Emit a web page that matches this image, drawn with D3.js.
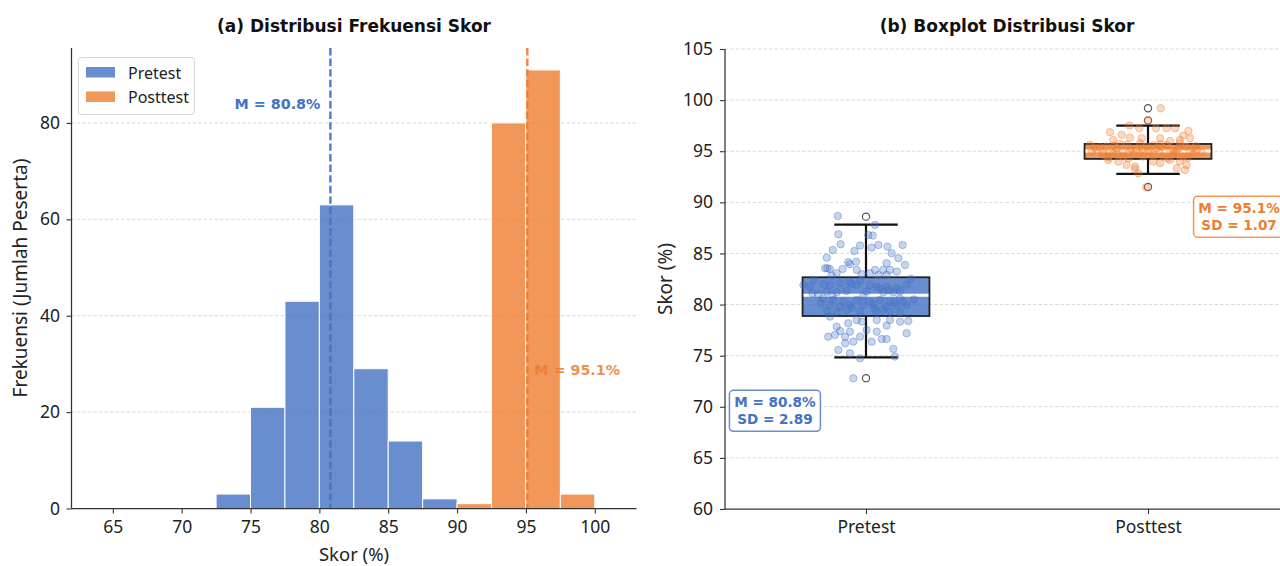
<!DOCTYPE html>
<html><head><meta charset="utf-8">
<script src="https://cdn.jsdelivr.net/npm/d3@7"></script>
<style>body{margin:0;background:#fff;} svg{display:block;}</style>
</head><body>
<svg id="c" width="1280" height="566"></svg>
<script>
// ---------- DATA ----------
const groups = ["Pretest", "Posttest"];
const groupColors = ["#4472C4", "#ED7D31"];
const pretestBinEdges = [72.5, 75, 77.5, 80, 82.5, 85, 87.5, 90];
const pretestCounts = [3, 21, 43, 63, 29, 14, 2];
const posttestBinEdges = [90, 92.5, 95, 97.5, 100];
const posttestCounts = [1, 80, 91, 3];
const means = [80.8, 95.1];
const sds = [2.89, 1.07];
const histXTicks = [65, 70, 75, 80, 85, 90, 95, 100];
const histYTicks = [0, 20, 40, 60, 80];
const boxYTicks = [60, 65, 70, 75, 80, 85, 90, 95, 100, 105];
const boxQ1 = [78.88, 94.25];
const boxMedian = [80.91, 95.03];
const boxQ3 = [82.67, 95.71];
const whiskerLow = [74.84, 92.78];
const whiskerHigh = [87.82, 97.50];
const pretestOutliers = [72.8, 88.6];
const posttestOutliers = [91.5, 98.0, 99.2];
const annotX = [0.677, 2.323];
const annotY = [69.6, 88.6];

const pretestScores = [88.67,87.79,86.88,86.81,86.75,85.90,85.77,85.57,85.83,85.67,85.83,85.34,85.24,85.02,84.59,84.53,84.14,84.20,84.04,83.87,83.55,83.55,83.48,83.48,83.94,83.39,83.39,83.39,83.39,83.07,82.96,83.07,82.90,83.23,82.83,82.90,
81.92,81.75,81.98,81.92,82.08,82.02,81.92,81.92,81.75,81.75,81.59,81.92,81.27,81.20,81.33,81.27,81.20,81.20,81.33,80.61,80.45,80.29,80.45,80.29,80.45,80.29,80.29,79.96,79.80,79.96,79.96,80.03,79.80,79.90,79.96,79.37,79.31,79.47,79.31,79.37,79.31,79.24,
82.4,82.2,81.6,81.0,80.8,80.6,80.1,79.6,82.5,81.4,80.9,80.2,79.7,82.3,81.1,80.5,79.5,
78.82,78.49,78.49,78.49,78.33,78.40,78.17,78.33,77.84,77.42,77.35,77.51,77.35,77.94,76.86,77.03,76.86,76.86,76.63,76.63,77.19,76.37,76.21,76.37,75.56,75.23,74.74,75.66,74.91,72.79];
const pretestJitter = [-0.100,0.032,-0.098,0.008,0.024,-0.090,-0.021,0.020,0.044,0.076,0.130,-0.118,-0.041,0.091,-0.139,0.115,-0.063,-0.035,0.073,0.138,-0.145,-0.137,-0.128,-0.083,-0.057,-0.033,0.032,0.061,0.085,-0.104,-0.015,0.014,0.044,0.109,-0.122,0.073,
-0.222,-0.199,-0.151,-0.128,-0.092,-0.051,-0.033,0.014,0.038,0.073,0.109,0.144,-0.139,-0.104,-0.069,0.002,0.061,0.097,0.121,-0.151,-0.116,-0.080,-0.033,0.014,0.050,0.085,0.132,-0.128,-0.092,-0.057,-0.009,0.026,0.073,0.109,0.144,-0.139,-0.104,-0.069,-0.021,0.038,0.085,0.121,
-0.185,-0.06,0.05,-0.17,-0.01,0.12,-0.16,0.03,0.16,0.08,-0.12,0.10,-0.05,-0.02,-0.19,0.17,0.06,
-0.128,-0.033,0.038,0.085,0.121,0.150,-0.063,-0.015,-0.104,-0.092,-0.057,0.002,0.038,0.073,-0.134,-0.110,-0.074,-0.021,0.056,0.073,0.144,-0.045,-0.074,0.020,-0.098,-0.057,-0.021,0.097,0.103,-0.045];

const posttestScores = [99.20,98.0,91.47,96.86,97.51,97.25,97.25,97.25,97.25,96.60,96.33,96.27,96.53,96.99,96.27,96.27,96.11,96.11,96.01,
95.62,95.13,95.45,95.29,95.62,95.13,95.45,95.29,95.62,95.13,95.45,95.13,94.64,94.80,94.48,94.70,94.48,94.70,94.48,94.70,94.48,94.70,94.96,95.03,94.96,95.03,94.96,95.39,95.68,95.78,95.68,95.78,
95.35,95.55,95.25,95.10,95.40,95.30,95.50,94.85,94.90,94.85,94.90,94.85,95.30,95.00,94.90,94.40,94.35,94.30,94.30,95.20,95.60,95.45,94.75,95.05,
94.15,93.99,93.66,93.50,92.84,93.27,93.99,93.82,94.15,93.99,93.66,93.17,93.33];
const posttestJitter = [0.045,0.0,-0.007,-0.135,-0.066,-0.031,0.028,0.066,0.096,-0.093,-0.064,-0.022,0.125,0.143,0.149,0.043,0.113,-0.123,0.078,
-0.206,-0.182,-0.147,-0.111,-0.076,-0.040,-0.005,0.031,0.066,0.102,0.137,0.173,-0.158,-0.123,-0.087,-0.052,-0.017,0.019,0.054,0.090,0.125,0.161,-0.135,-0.064,0.007,0.078,0.149,-0.170,-0.099,-0.028,0.043,0.113,
-0.19,-0.12,-0.06,0.0,0.05,0.11,0.17,-0.16,-0.09,-0.03,0.04,0.10,0.16,-0.20,0.19,-0.14,0.14,-0.07,0.07,-0.02,0.02,0.13,-0.11,0.09,
-0.141,-0.105,-0.076,-0.046,-0.034,-0.046,0.019,0.043,0.078,0.113,0.137,0.131,0.102];

// ---------- DRAW ----------
const svg = d3.select("#c");
const regFont = "'Noto Sans', 'Open Sans', sans-serif";
const boldFont = "'DejaVu Sans', sans-serif";
const spineColor = "#333";
const gridColor = "#cfcfcf";
const tickFs = 17.5, labelFs = 19;

// ===== Panel (a) =====
const xA = d3.scaleLinear().domain([62.0, 103.03]).range([71.5, 636.5]);
const yA = d3.scaleLinear().domain([0, 95.55]).range([508.5, 48]);
const gA = svg.append("g");

gA.append("g").selectAll("line").data(histYTicks.filter(d => d > 0)).join("line")
  .attr("x1", 71.5).attr("x2", 636.5)
  .attr("y1", d => yA(d)).attr("y2", d => yA(d))
  .attr("stroke", gridColor).attr("stroke-width", 0.8).attr("stroke-dasharray", "3.5,2");

function bins(edges, counts) {
  return counts.map((c, i) => ({x0: edges[i], x1: edges[i + 1], c}));
}
const histSets = [bins(pretestBinEdges, pretestCounts), bins(posttestBinEdges, posttestCounts)];
histSets.forEach((set, gi) => {
  gA.append("g").selectAll("rect").data(set).join("rect")
    .attr("x", d => xA(d.x0)).attr("width", d => xA(d.x1) - xA(d.x0))
    .attr("y", d => yA(d.c)).attr("height", d => yA(0) - yA(d.c))
    .attr("fill", groupColors[gi]).attr("fill-opacity", 0.8)
    .attr("stroke", "#fff").attr("stroke-width", 1);
});

means.forEach((m, gi) => {
  gA.append("line")
    .attr("x1", xA(m)).attr("x2", xA(m)).attr("y1", yA(95.55)).attr("y2", yA(0))
    .attr("stroke", groupColors[gi]).attr("stroke-width", 2.5)
    .attr("stroke-dasharray", "7.4,3.2").attr("opacity", 0.9);
});
gA.append("text").attr("x", xA(means[0]) - 10).attr("y", 108.5)
  .attr("text-anchor", "end").attr("font-family", boldFont).attr("font-weight", "bold")
  .attr("font-size", 14.3).attr("fill", groupColors[0]).text("M = " + means[0] + "%");
gA.append("text").attr("x", xA(means[1]) + 7).attr("y", 374.5)
  .attr("text-anchor", "start").attr("font-family", boldFont).attr("font-weight", "bold")
  .attr("font-size", 14.3).attr("fill", groupColors[1]).attr("opacity", 0.85).text("M = " + means[1] + "%");

const axA_x = d3.axisBottom(xA).tickValues(histXTicks).tickSize(5).tickPadding(7).tickFormat(d3.format("d"));
const axA_y = d3.axisLeft(yA).tickValues(histYTicks).tickSize(5).tickPadding(6.5).tickFormat(d3.format("d"));
const gax = gA.append("g").attr("transform", "translate(0,508.5)").call(axA_x);
const gay = gA.append("g").attr("transform", "translate(71.5,0)").call(axA_y);
[gax, gay].forEach(g => {
  g.select(".domain").attr("stroke", spineColor).attr("stroke-width", 1.25);
  g.selectAll(".tick line").attr("stroke", spineColor).attr("stroke-width", 1.1);
  g.selectAll(".tick text").attr("font-family", regFont).attr("font-size", tickFs).attr("fill", "#222");
});
gax.select(".domain").attr("d", "M71.5,0H636.5");
gay.select(".domain").attr("d", "M0,508.5V48");

gA.append("text").attr("x", 354).attr("y", 32).attr("text-anchor", "middle")
  .attr("font-family", boldFont).attr("font-weight", "bold").attr("font-size", 17).attr("fill", "#111")
  .text("(a) Distribusi Frekuensi Skor");
gA.append("text").attr("x", 354).attr("y", 560.5).attr("text-anchor", "middle")
  .attr("font-family", regFont).attr("font-size", 18.5).attr("fill", "#222").text("Skor (%)");
gA.append("text").attr("transform", "translate(26.5,278) rotate(-90)").attr("text-anchor", "middle")
  .attr("font-family", regFont).attr("font-size", labelFs).attr("fill", "#222").text("Frekuensi (Jumlah Peserta)");

const lg = gA.append("g");
lg.append("rect").attr("x", 78.5).attr("y", 57.5).attr("width", 116).attr("height", 57).attr("rx", 3)
  .attr("fill", "#fff").attr("fill-opacity", 0.8).attr("stroke", "#d5d5d5").attr("stroke-width", 1);
groups.forEach((g, i) => {
  lg.append("rect").attr("x", 86).attr("y", 67 + i * 24.5).attr("width", 29).attr("height", 10.5)
    .attr("fill", groupColors[i]).attr("fill-opacity", 0.8);
  lg.append("text").attr("x", 128).attr("y", 78.5 + i * 24.5).attr("font-family", regFont)
    .attr("font-size", 16).attr("fill", "#222").text(g);
});

// ===== Panel (b) =====
const xB = d3.scaleLinear().domain([0.5, 2.5]).range([725, 1289]);
const yB = d3.scaleLinear().domain([60, 105]).range([509, 49]);
const gB = svg.append("g");

gB.append("g").selectAll("line").data(boxYTicks.filter(d => d > 60)).join("line")
  .attr("x1", 725).attr("x2", 1289)
  .attr("y1", d => yB(d)).attr("y2", d => yB(d))
  .attr("stroke", gridColor).attr("stroke-width", 0.8).attr("stroke-dasharray", "3.5,2");

const boxW = 0.45;
groups.forEach((g, i) => {
  const pos = i + 1;
  const c = groupColors[i];
  gB.append("line").attr("x1", xB(pos)).attr("x2", xB(pos)).attr("y1", yB(boxQ3[i])).attr("y2", yB(whiskerHigh[i]))
    .attr("stroke", "#111").attr("stroke-width", 2.2);
  gB.append("line").attr("x1", xB(pos)).attr("x2", xB(pos)).attr("y1", yB(boxQ1[i])).attr("y2", yB(whiskerLow[i]))
    .attr("stroke", "#111").attr("stroke-width", 2.2);
  [whiskerLow[i], whiskerHigh[i]].forEach(v => {
    gB.append("line").attr("x1", xB(pos - boxW / 4)).attr("x2", xB(pos + boxW / 4)).attr("y1", yB(v)).attr("y2", yB(v))
      .attr("stroke", "#111").attr("stroke-width", 2.2);
  });
  gB.append("rect").attr("x", xB(pos - boxW / 2)).attr("width", xB(pos + boxW / 2) - xB(pos - boxW / 2))
    .attr("y", yB(boxQ3[i])).attr("height", yB(boxQ1[i]) - yB(boxQ3[i]))
    .attr("fill", c).attr("fill-opacity", 0.8).attr("stroke", "#222").attr("stroke-width", 1.8);
  gB.append("line").attr("x1", xB(pos - boxW / 2) + 1).attr("x2", xB(pos + boxW / 2) - 1)
    .attr("y1", yB(boxMedian[i])).attr("y2", yB(boxMedian[i]))
    .attr("stroke", "#fff").attr("stroke-width", 3);
  const outs = i === 0 ? pretestOutliers : posttestOutliers;
  gB.append("g").selectAll("circle").data(outs).join("circle")
    .attr("cx", xB(pos)).attr("cy", d => yB(d)).attr("r", 3.6)
    .attr("fill", "none").attr("stroke", "#555").attr("stroke-width", 1.2);
  const sc = i === 0 ? pretestScores : posttestScores;
  const jt = i === 0 ? pretestJitter : posttestJitter;
  gB.append("g").selectAll("circle").data(sc).join("circle")
    .attr("cx", (d, k) => xB(pos + jt[k])).attr("cy", d => yB(d)).attr("r", 3.7)
    .attr("fill", c).attr("fill-opacity", 0.3)
    .attr("stroke", c).attr("stroke-opacity", 0.4).attr("stroke-width", 1);
});

const axB_x = d3.axisBottom(xB).tickValues([1, 2]).tickSize(5).tickPadding(7).tickFormat(d => groups[d - 1]);
const axB_y = d3.axisLeft(yB).tickValues(boxYTicks).tickSize(5).tickPadding(7).tickFormat(d3.format("d"));
const gbx = gB.append("g").attr("transform", "translate(0,509)").call(axB_x);
const gby = gB.append("g").attr("transform", "translate(725,0)").call(axB_y);
[gbx, gby].forEach(g => {
  g.select(".domain").attr("stroke", spineColor).attr("stroke-width", 1.25);
  g.selectAll(".tick line").attr("stroke", spineColor).attr("stroke-width", 1.1);
  g.selectAll(".tick text").attr("font-family", regFont).attr("font-size", tickFs).attr("fill", "#222");
});
gbx.select(".domain").attr("d", "M725,0H1289");
gby.select(".domain").attr("d", "M0,509V49");

groups.forEach((g, i) => {
  const cx = xB(annotX[i]), cy = yB(annotY[i]);
  const ag = gB.append("g");
  ag.append("rect").attr("x", cx - 45.5).attr("y", cy - 20.5).attr("width", 91).attr("height", 41).attr("rx", 4)
    .attr("fill", "#fff").attr("fill-opacity", 0.9).attr("stroke", groupColors[i]).attr("stroke-opacity", 0.8).attr("stroke-width", 1.5);
  ag.append("text").attr("x", cx).attr("y", cy - 3.5).attr("text-anchor", "middle")
    .attr("font-family", boldFont).attr("font-weight", "bold").attr("font-size", 13.6).attr("fill", groupColors[i])
    .text("M = " + means[i] + "%");
  ag.append("text").attr("x", cx).attr("y", cy + 13.5).attr("text-anchor", "middle")
    .attr("font-family", boldFont).attr("font-weight", "bold").attr("font-size", 13.6).attr("fill", groupColors[i])
    .text("SD = " + sds[i].toFixed(2));
});

gB.append("text").attr("x", 1007).attr("y", 32).attr("text-anchor", "middle")
  .attr("font-family", boldFont).attr("font-weight", "bold").attr("font-size", 17).attr("fill", "#111")
  .text("(b) Boxplot Distribusi Skor");
gB.append("text").attr("transform", "translate(671.5,279) rotate(-90)").attr("text-anchor", "middle")
  .attr("font-family", regFont).attr("font-size", labelFs).attr("fill", "#222").text("Skor (%)");
</script>
</body></html>
